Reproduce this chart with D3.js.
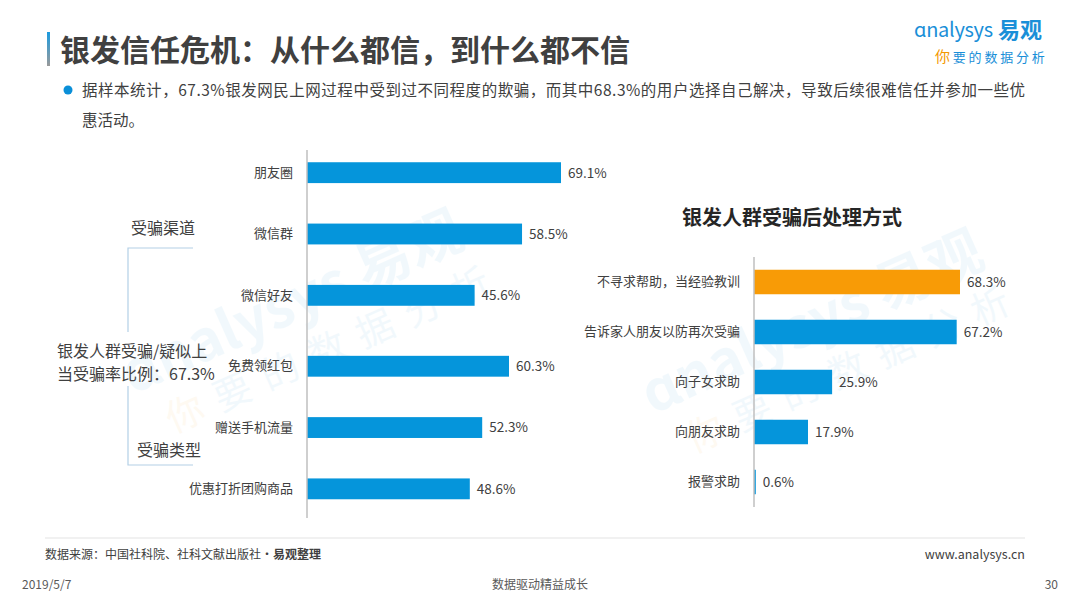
<!DOCTYPE html>
<html>
<head>
<meta charset="utf-8">
<script src="https://cdn.jsdelivr.net/npm/d3@7"></script>
<style>
  body { margin: 0; background: #fff; }
  svg { display: block; font-family: "Noto Sans CJK SC", "Noto Sans", sans-serif; }
</style>
</head>
<body>
<div id="display"></div>
<script>
// 受骗渠道
var channelCats = ['朋友圈', '微信群', '微信好友'];
var channelVals = [69.1, 58.5, 45.6];
// 受骗类型
var typeCats = ['免费领红包', '赠送手机流量', '优惠打折团购商品'];
var typeVals = [60.3, 52.3, 48.6];
// 受骗后处理方式
var handleCats = ['不寻求帮助，当经验教训', '告诉家人朋友以防再次受骗', '向子女求助', '向朋友求助', '报警求助'];
var handleVals = [68.3, 67.2, 25.9, 17.9, 0.6];

var width = 1080, height = 607;
var blue = '#0595db', orange = '#f89b06', txt = '#404040';

var svg = d3.select('#display').append('svg')
    .attr('width', width).attr('height', height);

// watermarks, very faint
function watermark(x, y) {
    var g = svg.append('g')
        .attr('transform', 'translate(' + x + ',' + y + ') rotate(-24)')
        .style('opacity', 0.05);
    g.append('text').text('ɑnalysys 易观')
        .attr('font-size', 56).attr('font-weight', 'bold')
        .attr('fill', '#0a8fd8').attr('text-anchor', 'middle');
    var s = g.append('text').attr('y', 52).attr('x', 20)
        .attr('font-size', 38).attr('letter-spacing', 14).attr('text-anchor', 'middle');
    s.append('tspan').text('你').attr('fill', '#f39800');
    s.append('tspan').text('要的数据分析').attr('fill', '#0a8fd8');
}
watermark(300, 320);
watermark(820, 340);

// title
var tg = svg.append('defs').append('linearGradient')
    .attr('id', 'tbar').attr('x1', 0).attr('y1', 0).attr('x2', 0).attr('y2', 1);
tg.append('stop').attr('offset', '0%').attr('stop-color', '#1a9be0');
tg.append('stop').attr('offset', '100%').attr('stop-color', '#9a9a9a');
svg.append('rect').attr('x', 47).attr('y', 32).attr('width', 3).attr('height', 34)
    .attr('fill', 'url(#tbar)');
svg.append('text').text('银发信任危机：从什么都信，到什么都不信')
    .attr('x', 60).attr('y', 61)
    .attr('font-size', 30).attr('font-weight', 'bold').attr('fill', '#404040');

// subtitle
svg.append('circle').attr('cx', 68).attr('cy', 90).attr('r', 4.5).attr('fill', '#0a8fd8');
svg.append('text').text('据样本统计，67.3%银发网民上网过程中受到过不同程度的欺骗，而其中68.3%的用户选择自己解决，导致后续很难信任并参加一些优')
    .attr('x', 82).attr('y', 96).attr('font-size', 15.5).attr('fill', txt)
    .attr('textLength', 943).attr('lengthAdjust', 'spacing');
svg.append('text').text('惠活动。')
    .attr('x', 82).attr('y', 126).attr('font-size', 15.5).attr('fill', txt);

// logo
var logo = svg.append('g');
logo.append('text').text('ɑnalysys')
    .attr('x', 914).attr('y', 37).attr('font-size', 20)
    .attr('letter-spacing', -0.3).attr('fill', '#1a8fd8');
logo.append('text').text('易观')
    .attr('x', 998).attr('y', 38).attr('font-size', 22).attr('font-weight', 'bold')
    .attr('fill', '#1a8fd8');
var slog = logo.append('text').attr('x', 935).attr('y', 62).attr('font-size', 13)
    .attr('letter-spacing', 2.8);
slog.append('tspan').text('你').attr('fill', '#f39800').attr('font-size', 15);
slog.append('tspan').text('要的数据分析').attr('fill', '#1a8fd8');

// ---------- left chart ----------
var axisX = 307;
var xChan = d3.scaleLinear().domain([0, 69.1]).range([axisX, 561]);
var xType = d3.scaleLinear().domain([0, 60.3]).range([axisX, 509]);
var yChan = d3.scaleBand().domain(channelCats).range([142, 326]).paddingInner(0.66).paddingOuter(0.33);
var yType = d3.scaleBand().domain(typeCats).range([335.6, 519.5]).paddingInner(0.66).paddingOuter(0.33);

function barGroup(cats, vals, x, y, colors) {
    var g = svg.append('g');
    g.selectAll('rect').data(cats).enter().append('rect')
        .attr('x', x(0))
        .attr('y', function(d) { return y(d); })
        .attr('width', function(d, i) { return Math.max(x(vals[i]) - x(0), 1.5); })
        .attr('height', y.bandwidth())
        .attr('fill', function(d, i) { return colors ? colors[i] : blue; });
    g.selectAll('text.val').data(cats).enter().append('text')
        .attr('class', 'val')
        .text(function(d, i) { return vals[i].toFixed(1) + '%'; })
        .attr('x', function(d, i) { return x(vals[i]) + 7; })
        .attr('y', function(d) { return y(d) + y.bandwidth() / 2; })
        .attr('dy', '0.36em')
        .attr('font-size', 13.5).attr('fill', txt);
    var ax = svg.append('g')
        .attr('transform', 'translate(' + x(0) + ',0)')
        .call(d3.axisLeft(y).tickSize(0).tickPadding(14));
    ax.select('.domain').remove();
    ax.selectAll('text')
        .attr('font-size', 13).attr('fill', txt)
        .attr('font-family', '"Noto Sans CJK SC", sans-serif');
}

barGroup(channelCats, channelVals, xChan, yChan);
barGroup(typeCats, typeVals, xType, yType);

svg.append('line')
    .attr('x1', axisX).attr('x2', axisX).attr('y1', 150).attr('y2', 518)
    .attr('stroke', '#bfbfbf').attr('stroke-width', 1.5);

// bracket + annotation
var bc = '#b3d0e6';
var br = svg.append('g').attr('stroke', bc).attr('stroke-width', 1.2).attr('fill', 'none');
br.append('path').attr('d', 'M193,248 H128 V332');
br.append('path').attr('d', 'M128,386 V465 H193');

svg.append('text').text('受骗渠道').attr('x', 131).attr('y', 234)
    .attr('font-size', 16).attr('fill', txt);
svg.append('text').text('受骗类型').attr('x', 137).attr('y', 456)
    .attr('font-size', 16).attr('fill', txt);
svg.append('text').text('银发人群受骗/疑似上').attr('x', 57).attr('y', 357)
    .attr('font-size', 16).attr('fill', txt);
svg.append('text').text('当受骗率比例：67.3%').attr('x', 57).attr('y', 380)
    .attr('font-size', 16).attr('fill', txt);

// ---------- right chart ----------
var xHand = d3.scaleLinear().domain([0, 68.3]).range([754, 960]);
var yHand = d3.scaleBand().domain(handleCats).range([257, 507]).paddingInner(0.51).paddingOuter(0.255);

svg.append('text').text('银发人群受骗后处理方式')
    .attr('x', 792).attr('y', 225).attr('text-anchor', 'middle')
    .attr('font-size', 20).attr('font-weight', 'bold').attr('fill', '#262626');

barGroup(handleCats, handleVals, xHand, yHand, [orange, blue, blue, blue, blue]);

svg.append('line')
    .attr('x1', 754).attr('x2', 754).attr('y1', 257).attr('y2', 507)
    .attr('stroke', '#bfbfbf').attr('stroke-width', 1.5);

// ---------- footer ----------
svg.append('line').attr('x1', 45).attr('x2', 1025).attr('y1', 538).attr('y2', 538)
    .attr('stroke', '#e3e3e3').attr('stroke-width', 1);
var src = svg.append('text').attr('x', 45).attr('y', 559).attr('font-size', 12).attr('fill', txt);
src.append('tspan').text('数据来源：中国社科院、社科文献出版社·');
src.append('tspan').text('易观整理').attr('font-weight', 'bold');
svg.append('text').text('www.analysys.cn').attr('x', 1025).attr('y', 559)
    .attr('text-anchor', 'end').attr('font-size', 12.5).attr('fill', txt);

svg.append('text').text('2019/5/7').attr('x', 22).attr('y', 589)
    .attr('font-size', 12).attr('fill', '#595959');
svg.append('text').text('数据驱动精益成长').attr('x', 540).attr('y', 589)
    .attr('text-anchor', 'middle').attr('font-size', 12).attr('fill', '#595959');
svg.append('text').text('30').attr('x', 1058).attr('y', 589)
    .attr('text-anchor', 'end').attr('font-size', 12).attr('fill', '#595959');
</script>
</body>
</html>
